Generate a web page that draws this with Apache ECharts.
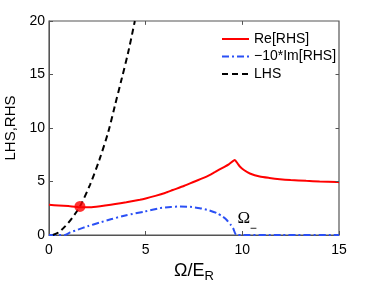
<!DOCTYPE html>
<html><head><meta charset="utf-8">
<script src="https://cdn.jsdelivr.net/npm/echarts@6/dist/echarts.min.js"></script>
<style>html,body{margin:0;padding:0;background:#fff}#c{width:374px;height:281px}</style>
</head><body><div id="c"></div>
<script>
// x ticks / y ticks
const xTicks = [0, 5, 10, 15];
const yTicks = [0, 5, 10, 15, 20];
// Re[RHS]
const reX = [0, 0.5, 1.0, 1.6, 2.2, 3.0, 4.0, 4.7, 5.0, 5.5, 6.0, 6.4, 7.0, 7.5, 8.15, 8.6, 9.0, 9.3, 9.61, 9.75, 9.87, 10.1, 10.39, 10.9, 11.4, 11.94, 12.5, 13.3, 14.0, 14.87, 15];
const reY = [2.82, 2.76, 2.7, 2.6, 2.6, 2.78, 3.07, 3.3, 3.42, 3.66, 3.93, 4.2, 4.6, 4.98, 5.46, 5.9, 6.3, 6.6, 7.02, 6.7, 6.4, 6.05, 5.75, 5.46, 5.33, 5.22, 5.14, 5.06, 5.0, 4.95, 4.94];
// -10*Im[RHS]
const imX = [0, 0.8, 1.1, 1.5, 2.0, 2.6, 3.24, 4.0, 4.96, 5.74, 6.3, 6.77, 7.3, 7.8, 8.3, 8.67, 9.0, 9.18, 9.4, 9.52, 9.7, 12, 15];
const imY = [0, 0, 0.25, 0.5, 0.82, 1.15, 1.49, 1.85, 2.2, 2.51, 2.62, 2.67, 2.63, 2.51, 2.3, 2.05, 1.7, 1.43, 0.95, 0.65, 0, 0, 0];
// LHS
const lhsX = [0.2, 0.5, 0.83, 1.2, 1.6, 2.12, 2.6, 3.07, 3.41, 3.76, 4.1, 4.44];
const lhsY = [0, 0.25, 0.8, 1.6, 2.67, 4.69, 7.0, 9.66, 12.1, 14.6, 17.1, 20];
// intersection marker
const crossX = [1.6];
const crossY = [2.67];
const names = ['Re[RHS]', '\u221210*Im[RHS]', 'LHS'];

const zip = (a, b) => a.map((v, i) => [v, b[i]]);
const axisCol = '#555555';
const font = 'Liberation Sans, Arial, sans-serif';
const xMin = xTicks[0], xMax = xTicks[xTicks.length - 1];
const yMin = yTicks[0], yMax = yTicks[yTicks.length - 1];
const tx = (xMax - xMin) * 0.012, ty = (yMax - yMin) * 0.018;

// frame ticks built from tick arrays
const tickLines = [];
xTicks.slice(1, -1).forEach(t => {
  tickLines.push([{coord: [t, yMin]}, {coord: [t, yMin + ty]}]);
  tickLines.push([{coord: [t, yMax]}, {coord: [t, yMax - ty]}]);
});
yTicks.slice(1, -1).forEach(t => {
  tickLines.push([{coord: [xMin, t]}, {coord: [xMin + tx, t]}]);
  tickLines.push([{coord: [xMax, t]}, {coord: [xMax - tx, t]}]);
});

const chart = echarts.init(document.getElementById('c'), null, {renderer: 'canvas'});
const baseX = {type: 'value', min: xMin, max: xMax, interval: 5,
  axisLine: {show: true, onZero: false, lineStyle: {color: axisCol, width: 1}},
  axisTick: {show: true, inside: true, length: 4, lineStyle: {color: axisCol, width: 1}},
  splitLine: {show: false}};
const baseY = {type: 'value', min: yMin, max: yMax, interval: 5,
  axisLine: {show: true, onZero: false, lineStyle: {color: axisCol, width: 1}},
  axisTick: {show: true, inside: true, length: 4, lineStyle: {color: axisCol, width: 1}},
  splitLine: {show: false}};

chart.setOption({
  animation: false,
  backgroundColor: '#fff',
  grid: {left: 49, right: 35, top: 21, bottom: 46, containLabel: false, outerBoundsMode: 'none'},
  legend: {
    data: names, orient: 'vertical', left: 216, top: 27,
    itemWidth: 27, itemHeight: 14, itemGap: 3.5,
    itemStyle: {opacity: 0},
    textStyle: {fontFamily: font, fontSize: 14, color: '#000'},
    selectedMode: false
  },
  xAxis: [
    Object.assign({}, baseX, {position: 'bottom',
      axisLabel: {show: true, fontFamily: font, fontSize: 14, color: '#000', margin: 8},
      name: '{a|\u03A9/E}{b|R}', nameLocation: 'middle', nameGap: 18,
      nameTextStyle: {rich: {
        a: {fontFamily: font, fontSize: 18, color: '#000'},
        b: {fontFamily: font, fontSize: 13, color: '#000', padding: [12, 0, 0, 0]}
      }}})
  ],
  yAxis: [
    Object.assign({}, baseY, {position: 'left',
      axisLabel: {show: true, fontFamily: font, fontSize: 14, color: '#000', margin: 4},
      name: 'LHS,RHS', nameLocation: 'middle', nameGap: 24, nameRotate: 90,
      nameTextStyle: {fontFamily: font, fontSize: 15, color: '#000'}})
  ],
  series: [
    {name: names[0], type: 'line', data: zip(reX, reY), showSymbol: false, symbol: 'none',
      smooth: 0.2, lineStyle: {color: '#ff0000', width: 2}, itemStyle: {color: '#ff0000'}, z: 3},
    {name: names[1], type: 'line', data: zip(imX, imY), showSymbol: false, symbol: 'none',
      smooth: 0.2, lineStyle: {color: '#2b50f5', width: 2, type: [7, 3, 2, 3]}, itemStyle: {color: '#2b50f5'}, z: 2,
      markPoint: {symbol: 'circle', symbolSize: 0, silent: true,
        data: [
          {coord: [10.08, 1.52], label: {show: true, position: 'inside', formatter: '\u03A9',
            fontFamily: 'Liberation Serif, serif', fontSize: 17, color: '#000'}},
          {coord: [10.56, 0.62], label: {show: true, position: 'inside', formatter: '\u2212',
            fontFamily: 'Liberation Sans, sans-serif', fontSize: 12, color: '#000'}}
        ]}},
    {name: names[2], type: 'line', data: zip(lhsX, lhsY), showSymbol: false, symbol: 'none',
      smooth: 0.3, lineStyle: {color: '#000', width: 2, type: [6, 4]}, itemStyle: {color: '#000'}, z: 2},
    {type: 'scatter', data: zip(crossX, crossY), symbol: 'circle', symbolSize: 11,
      itemStyle: {color: '#ff0000'}, z: 5,
      markArea: {silent: true,
        itemStyle: {color: 'rgba(0,0,0,0)', borderColor: axisCol, borderWidth: 1.2},
        label: {show: false},
        data: [[{coord: [xMin, yMin]}, {coord: [xMax, yMax]}]]},
      markLine: {silent: true, symbol: ['none', 'none'], animation: false,
        lineStyle: {color: axisCol, width: 1, type: 'solid'},
        label: {show: false}, emphasis: {disabled: true},
        data: tickLines}}
  ]
});
</script></body></html>
